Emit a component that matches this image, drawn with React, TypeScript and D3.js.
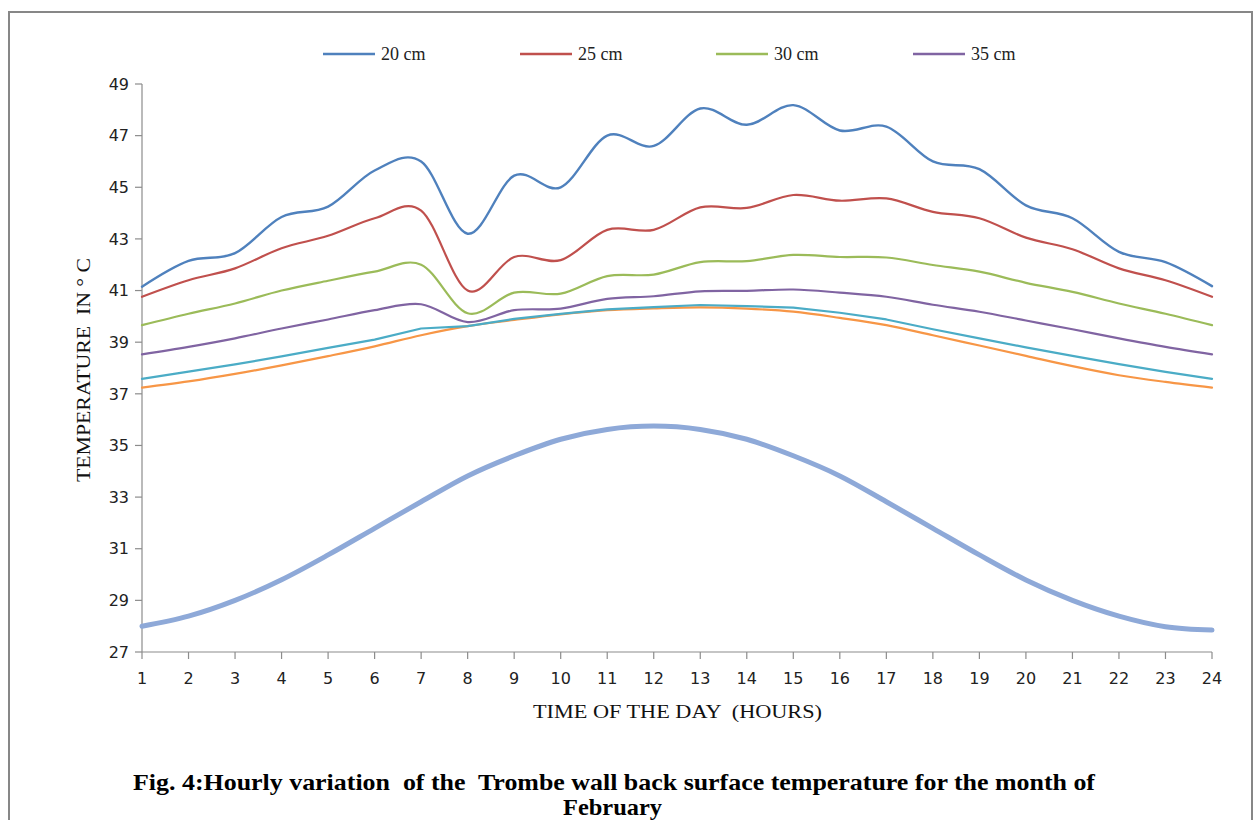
import React from "react";
import * as d3 from "d3";

const hours = d3.range(1, 25);
const yTicks = [27, 29, 31, 33, 35, 37, 39, 41, 43, 45, 47, 49];

const s20 = [41.15, 42.15, 42.45, 43.85, 44.25, 45.65, 46.0, 43.2, 45.45, 45.0, 47.0, 46.6, 48.05, 47.42, 48.18, 47.2, 47.35, 46.0, 45.7, 44.3, 43.8, 42.5, 42.1, 41.17];
const s25 = [40.76, 41.4, 41.86, 42.64, 43.12, 43.8, 44.1, 41.0, 42.3, 42.18, 43.35, 43.35, 44.22, 44.2, 44.7, 44.48, 44.57, 44.05, 43.8, 43.05, 42.6, 41.86, 41.4, 40.76];
const s30 = [39.66, 40.1, 40.5, 41.0, 41.38, 41.73, 42.0, 40.12, 40.92, 40.88, 41.56, 41.62, 42.1, 42.14, 42.38, 42.3, 42.28, 41.99, 41.73, 41.3, 40.95, 40.5, 40.1, 39.66];
const s35 = [38.53, 38.82, 39.15, 39.53, 39.88, 40.24, 40.47, 39.78, 40.24, 40.3, 40.68, 40.78, 40.97, 40.99, 41.04, 40.92, 40.76, 40.45, 40.18, 39.84, 39.5, 39.15, 38.82, 38.53];
const sTeal = [37.58, 37.86, 38.14, 38.45, 38.78, 39.1, 39.53, 39.62, 39.9, 40.1, 40.27, 40.36, 40.44, 40.4, 40.34, 40.14, 39.88, 39.5, 39.15, 38.8, 38.47, 38.15, 37.85, 37.58];
const sOrange = [37.24, 37.48, 37.77, 38.1, 38.46, 38.84, 39.27, 39.62, 39.86, 40.08, 40.24, 40.31, 40.35, 40.3, 40.18, 39.94, 39.66, 39.27, 38.87, 38.47, 38.07, 37.72, 37.46, 37.24];
const sAmbient = [28.0, 28.39, 29.0, 29.8, 30.76, 31.79, 32.82, 33.82, 34.6, 35.24, 35.62, 35.75, 35.62, 35.24, 34.6, 33.82, 32.82, 31.79, 30.76, 29.79, 29.0, 28.39, 27.98, 27.85];

const legendLabels = ["20 cm", "25 cm", "30 cm", "35 cm"];

const series = [
  { values: sAmbient, color: "#8EA9D8", width: 5, smooth: true },
  { values: sOrange, color: "#F79646", width: 2.2, smooth: true },
  { values: sTeal, color: "#4BACC6", width: 2.2, smooth: false },
  { values: s35, color: "#8064A2", width: 2.2, smooth: true },
  { values: s30, color: "#9BBB59", width: 2.2, smooth: true },
  { values: s25, color: "#C0504D", width: 2.2, smooth: true },
  { values: s20, color: "#4F81BD", width: 2.4, smooth: true },
];
const legendColors = ["#4F81BD", "#C0504D", "#9BBB59", "#8064A2"];

export default function App() {
  const x = d3.scaleLinear().domain([1, 24]).range([142, 1212]);
  const y = d3.scaleLinear().domain([27, 49]).range([652, 84]);
  const sans = "'DejaVu Sans', Verdana, sans-serif";
  const serif = "'Liberation Serif', 'Times New Roman', serif";
  const axisColor = "#8c8c8c";
  const legendX = [323, 520, 716, 913];

  return (
    <svg
      width={1258}
      height={820}
      style={{ position: "absolute", left: 0, top: 0, background: "#fff" }}
    >
      <rect x={0} y={0} width={1258} height={820} fill="#fff" />
      <rect x={9} y={12} width={1243} height={830} fill="none" stroke="#878787" strokeWidth={2} />

      {/* legend */}
      {legendLabels.map((lab, i) => (
        <g key={lab}>
          <line x1={legendX[i]} x2={legendX[i] + 52} y1={54} y2={54} stroke={legendColors[i]} strokeWidth={2.4} />
          <text x={legendX[i] + 58} y={60} fontFamily={serif} fontSize={18} fill="#222">
            {lab}
          </text>
        </g>
      ))}

      {/* axes */}
      <line x1={142} x2={142} y1={84} y2={652} stroke={axisColor} strokeWidth={1.2} />
      <line x1={142} x2={1212} y1={652} y2={652} stroke={axisColor} strokeWidth={1.2} />
      {yTicks.map((t) => (
        <g key={t}>
          <line x1={135} x2={142} y1={y(t)} y2={y(t)} stroke={axisColor} strokeWidth={1.2} />
          <text x={129} y={y(t)} dy="0.36em" textAnchor="end" fontFamily={sans} fontSize={16} fill="#222">
            {t}
          </text>
        </g>
      ))}
      {hours.map((h) => (
        <g key={h}>
          <line x1={x(h)} x2={x(h)} y1={652} y2={659} stroke={axisColor} strokeWidth={1.2} />
          <text x={x(h)} y={684} textAnchor="middle" fontFamily={sans} fontSize={16} fill="#222">
            {h}
          </text>
        </g>
      ))}

      {/* series */}
      {series.map((s, i) => {
        const gen = d3
          .line<number>()
          .x((_, j) => x(hours[j]))
          .y((v) => y(v))
          .curve(s.smooth ? d3.curveCatmullRom.alpha(0) : d3.curveLinear);
        return (
          <path
            key={i}
            d={gen(s.values) || ""}
            fill="none"
            stroke={s.color}
            strokeWidth={s.width}
            strokeLinejoin="round"
            strokeLinecap="round"
          />
        );
      })}

      {/* axis titles */}
      <text
        x={533}
        y={718}
        fontFamily={serif}
        fontSize={19}
        fill="#111"
        textLength={289}
        lengthAdjust="spacingAndGlyphs"
        style={{ whiteSpace: "pre" }}
      >
        {"TIME OF THE DAY  (HOURS)"}
      </text>
      <text
        transform="translate(90,482) rotate(-90)"
        fontFamily={serif}
        fontSize={19}
        fill="#111"
        textLength={224}
        lengthAdjust="spacingAndGlyphs"
        style={{ whiteSpace: "pre" }}
      >
        {"TEMPERATURE  IN ° C"}
      </text>

      {/* caption */}
      <text
        x={133}
        y={790}
        fontFamily={serif}
        fontWeight="bold"
        fontSize={24}
        fill="#000"
        textLength={962}
        lengthAdjust="spacingAndGlyphs"
        style={{ whiteSpace: "pre" }}
      >
        {"Fig. 4:Hourly variation  of the  Trombe wall back surface temperature for the month of"}
      </text>
      <text
        x={563}
        y={815}
        fontFamily={serif}
        fontWeight="bold"
        fontSize={23}
        fill="#000"
        textLength={99}
        lengthAdjust="spacingAndGlyphs"
      >
        February
      </text>
    </svg>
  );
}
